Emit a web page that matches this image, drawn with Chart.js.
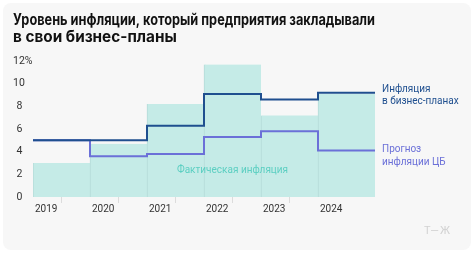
<!DOCTYPE html>
<html>
<head>
<meta charset="utf-8">
<script src="https://cdn.jsdelivr.net/npm/chart.js@4.4.0/dist/chart.umd.min.js"></script>
<style>
  body { margin: 0; background: #fff; width: 474px; height: 253px; overflow: hidden; font-family: Roboto, sans-serif; }
  .card { position: absolute; left: 3px; top: 3px; width: 468px; height: 247px; background: #f7f7f7; border-radius: 8px; }
  .card canvas { position: absolute; left: 0; top: 0; }
  .wm { position: absolute; left: 424px; top: 224px; font-size: 11px; color: #d3d3d3; letter-spacing: 1px; }
</style>
</head>
<body>
<div class="card"><canvas id="chart" width="468" height="247"></canvas></div>
<div class="wm">Т—Ж</div>
<script>
// Data
const years = ['2019', '2020', '2021', '2022', '2023', '2024'];
const actualInflation = [3.0, 4.7, 8.2, 11.7, 7.2, 9.1];
const businessPlans = [5.0, 5.0, 6.3, 9.1, 8.6, 9.2];
const cbForecast = [5.0, 3.6, 3.8, 5.3, 5.8, 4.1];
const yTicks = [0, 2, 4, 6, 8, 10, 12];

const darkBlue = '#1f4f8f';
const purple = '#6b70d8';
const teal = '#5ccfc2';
const smallFont = 'Roboto, sans-serif';

// stepped line: value i holds from x=i to x=i+1
function stepPoints(values) {
    const pts = values.map((v, i) => ({ x: i, y: v }));
    pts.push({ x: values.length, y: values[values.length - 1] });
    return pts;
}

// Labels at the right end of the lines and the bar label
const seriesLabels = {
    id: 'seriesLabels',
    afterDatasetsDraw(chart) {
        const { ctx, scales: { x, y } } = chart;
        ctx.save();
        ctx.font = '10px ' + smallFont;
        ctx.textBaseline = 'middle';
        ctx.textAlign = 'left';
        const lx = x.right + 7;

        let py = y.getPixelForValue(businessPlans[businessPlans.length - 1]);
        ctx.fillStyle = darkBlue;
        ctx.fillText('Инфляция', lx, py - 3.5);
        ctx.fillText('в бизнес-планах', lx, py + 9);

        py = y.getPixelForValue(cbForecast[cbForecast.length - 1]);
        ctx.fillStyle = purple;
        ctx.fillText('Прогноз', lx, py - 1.5);
        ctx.fillText('инфляции ЦБ', lx, py + 12);

        ctx.textAlign = 'center';
        ctx.fillStyle = teal;
        ctx.fillText('Фактическая инфляция', x.getPixelForValue(3.5), y.getPixelForValue(2.3));
        ctx.restore();
    }
};

new Chart(document.getElementById('chart'), {
    type: 'bar',
    data: {
        datasets: [
            {
                type: 'line', label: 'Инфляция в бизнес-планах', data: stepPoints(businessPlans),
                borderColor: darkBlue, borderWidth: 2, stepped: 'before', pointRadius: 0, order: 0
            },
            {
                type: 'line', label: 'Прогноз инфляции ЦБ', data: stepPoints(cbForecast),
                borderColor: purple, borderWidth: 2, stepped: 'before', pointRadius: 0, order: 1
            },
            {
                label: 'Фактическая инфляция',
                data: actualInflation.map((v, i) => ({ x: i + 0.5, y: v })),
                backgroundColor: '#c5ebe7',
                borderColor: '#b4dcd8',
                borderWidth: { left: 1, right: 0, top: 0, bottom: 0 },
                borderSkipped: false,
                barPercentage: 1, categoryPercentage: 1, order: 2
            }
        ]
    },
    options: {
        responsive: false,
        animation: false,
        devicePixelRatio: 1,
        layout: { padding: { left: 10, right: 96, top: 2, bottom: 35 } },
        plugins: {
            legend: { display: false },
            tooltip: { enabled: false },
            title: {
                display: true,
                text: ['Уровень инфляции, который предприятия закладывали', 'в свои бизнес-планы'],
                align: 'start',
                color: '#111',
                font: { family: 'Inter, sans-serif', size: 15.3, weight: 'bold', lineHeight: 1.13 },
                padding: { top: 6.5, bottom: 15 }
            }
        },
        scales: {
            x: {
                type: 'linear', min: 0, max: years.length, offset: false,
                border: { display: false },
                grid: {
                    drawOnChartArea: false, drawTicks: true, tickLength: 6,
                    color: c => {
                        const v = c.tick ? c.tick.value : -1;
                        return (v > 0 && v < years.length) ? '#dcdcdc' : 'rgba(0,0,0,0)';
                    }
                },
                ticks: {
                    stepSize: 1, autoSkip: false, maxRotation: 0, align: 'start', labelOffset: 2, padding: 0,
                    color: '#333', font: { family: smallFont, size: 10 },
                    callback: v => years[v] ?? ''
                }
            },
            y: {
                min: 0, max: 12,
                border: { display: false },
                grid: { display: false, drawTicks: false },
                afterFit: s => { s.width = 20; },
                afterBuildTicks: s => { s.ticks = yTicks.map(v => ({ value: v })); },
                ticks: {
                    crossAlign: 'far', padding: 2,
                    color: '#333', font: { family: smallFont, size: 10.5 },
                    callback: v => v === 12 ? '12%' : (v >= 10 ? String(v) : '\u2004' + v)
                }
            }
        }
    },
    plugins: [seriesLabels]
});
</script>
</body>
</html>
